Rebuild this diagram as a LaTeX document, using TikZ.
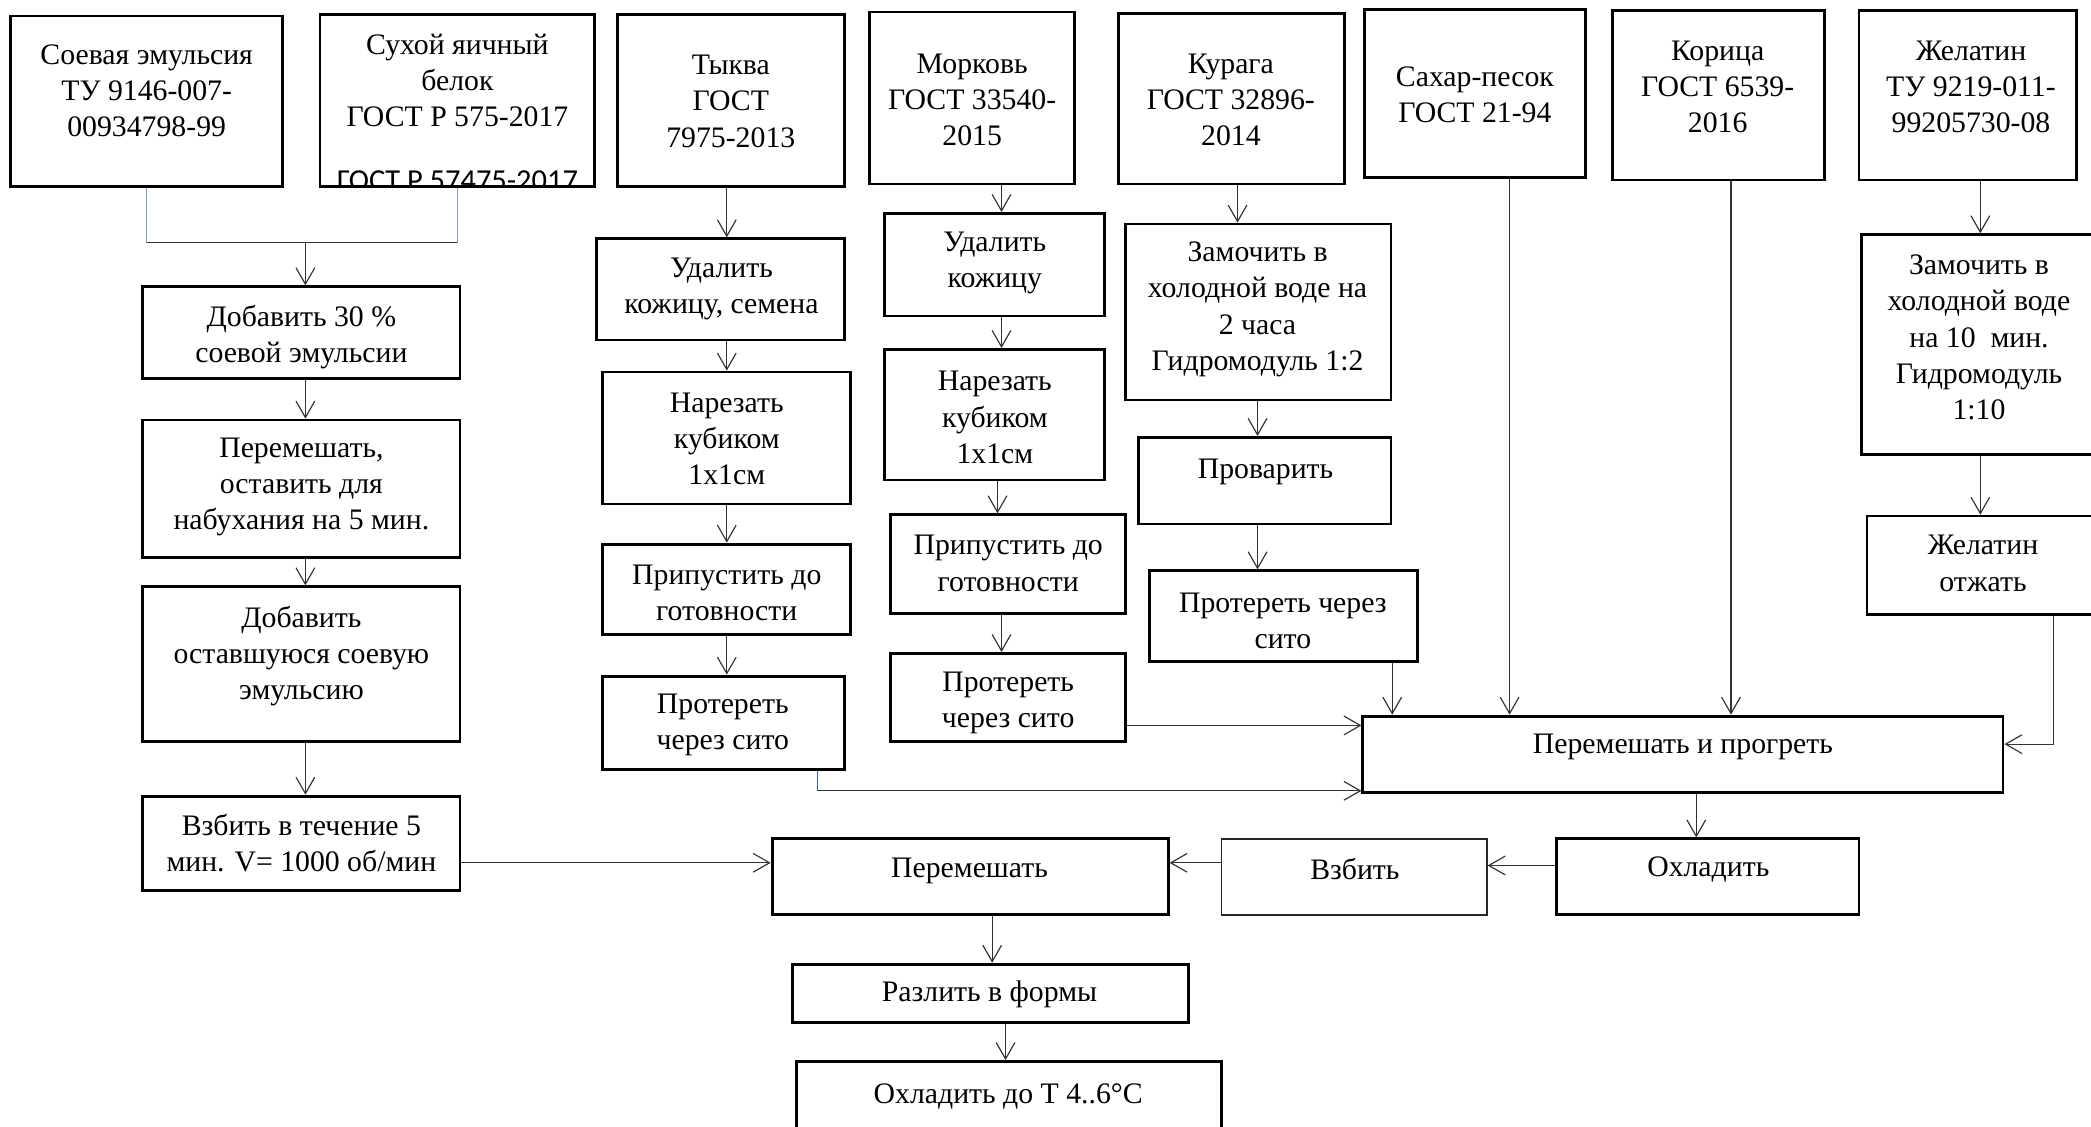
\documentclass[tikz,border=0pt]{standalone}
\usepackage{fontspec}
\setmainfont{Liberation Serif}
\newfontfamily\calfont{Carlito}
\usetikzlibrary{arrows.meta,fit}
\definecolor{linkpale}{RGB}{122,152,210}
\definecolor{linkdeep}{RGB}{60,96,196}
\tikzset{
  box/.style={draw=black, line width=1.2pt, inner sep=0pt},
  thinbox/.style={draw=black!85, line width=0.6pt, inner sep=0pt},
  txt/.style={align=center, inner sep=0pt, font=\fontsize{12.7}{15.4}\selectfont},
  conn/.style={line width=0.5pt, draw=black!80},
  arr/.style={conn, -{Straight Barb[length=7pt,width=8pt]}},
  lightlink/.style={line width=0.6pt, draw=linkpale},
  darklink/.style={line width=0.6pt, draw=linkdeep},
}
% \pbox{name}{x1}{y1}{x2}{y2}{style}
\newcommand\pbox[6]{\node[#6, fit={(#2,#3) (#4,#5)}] (#1) {};}
\begin{document}
\begin{tikzpicture}[x=0.02cm, y=-0.02cm]
\useasboundingbox (0,0) rectangle (1568,845);

% extra line of the egg-white standard, cut off by the frame
\begin{scope}
  \clip (240,11) rectangle (446,139);
  \node[anchor=base, inner sep=0pt, font=\calfont\fontsize{13}{15}\selectfont] (b2x) at (343,142.5) {ГОСТ Р 57475-2017};
\end{scope}

% raw materials
\pbox{b1}{8}{12}{212}{140}{box}
\pbox{b2}{240}{11}{446}{140}{box}
\pbox{b3}{463}{11}{633}{140}{box}
\pbox{b4}{652}{9}{806}{138}{box}
\pbox{b5}{839}{10}{1008}{138}{box}
\pbox{b6}{1023}{7}{1189}{133}{box}
\pbox{b7}{1209}{8}{1368}{135}{box}
\pbox{b8}{1394}{8}{1557}{135}{box}
\node[txt] (b1t) at (110,68) {Соевая эмульсия\\ТУ 9146-007-\\00934798-99};
\node[txt] (b2t) at (343,60.5) {Сухой яичный\\белок\\ГОСТ Р 575-2017};
\node[txt] (b3t) at (548,76) {Тыква\\ГОСТ\\7975-2013};
\node[txt] (b4t) at (729,75) {Морковь\\ГОСТ 33540-\\2015};
\node[txt] (b5t) at (923,75) {Курага\\ГОСТ 32896-\\2014};
\node[txt] (b6t) at (1106,71) {Сахар-песок\\ГОСТ 21-94};
\node[txt] (b7t) at (1288,65) {Корица\\ГОСТ 6539-\\2016};
\node[txt] (b8t) at (1478,65) {Желатин\\ТУ 9219-011-\\99205730-08};

% protein branch
\pbox{l1}{107}{215}{345}{284}{box}
\pbox{l2}{107}{315}{345}{418}{box}
\pbox{l3}{107}{440}{345}{556}{box}
\pbox{l4}{107}{597}{345}{668}{box}
\node[txt] (l1t) at (226,252.5) {Добавить 30 \%\\соевой эмульсии};
\node[txt] (l2t) at (226,365) {Перемешать,\\оставить для\\набухания на 5 мин.};
\node[txt] (l3t) at (226,492) {Добавить\\оставшуюся соевую\\эмульсию};
\node[txt] (l4t) at (226,632.5) {Взбить в течение 5\\мин. V= 1000 об/мин};

% pumpkin branch
\pbox{t1}{447}{179}{633}{255}{box}
\pbox{t2}{452}{279}{638}{378}{box}
\pbox{t3}{452}{408}{638}{476}{box}
\pbox{t4}{452}{507}{633}{577}{box}
\node[txt] (t1t) at (541,216.5) {Удалить\\кожицу, семена};
\node[txt] (t2t) at (545,329) {Нарезать\\кубиком\\1x1см};
\node[txt] (t3t) at (545,444.5) {Припустить до\\готовности};
\node[txt] (t4t) at (542,543.5) {Протереть\\через сито};

% carrot branch
\pbox{m1}{663}{160}{828}{237}{box}
\pbox{m2}{663}{262}{828}{360}{box}
\pbox{m3}{668}{386}{844}{460}{box}
\pbox{m4}{668}{490}{844}{556}{box}
\node[txt] (m1t) at (746,197.5) {Удалить\\кожицу};
\node[txt] (m2t) at (746,313) {Нарезать\\кубиком\\1x1см};
\node[txt] (m3t) at (756,422.5) {Припустить до\\готовности};
\node[txt] (m4t) at (756,527) {Протереть\\через сито};

% dried apricot branch
\pbox{k1}{844}{168}{1043}{300}{box}
\pbox{k2}{854}{328}{1043}{393}{box}
\pbox{k3}{862}{428}{1063}{496}{box}
\node[txt] (k1t) at (943,232) {Замочить в\\холодной воде на\\2 часа\\Гидромодуль 1:2};
\node[txt] (k2t) at (949,354) {Проварить};
\node[txt] (k3t) at (962,465.5) {Протереть через\\сито};

% gelatin branch
\pbox{g1}{1396}{176}{1590}{341}{box}
\pbox{g2}{1400}{387}{1590}{461}{box}
\node[txt] (g1t) at (1484,253) {Замочить в\\холодной воде\\на 10~ мин.\\Гидромодуль\\1:10};
\node[txt] (g2t) at (1487,422.5) {Желатин\\отжать};

% final steps
\pbox{pp}{1022}{537}{1502}{594}{box}
\pbox{oh}{1167}{629}{1394}{686}{box}
\pbox{vz}{916}{629}{1115}{686}{thinbox}
\pbox{pm}{579}{629}{876}{686}{box}
\pbox{rz}{594}{723}{891}{767}{box}
\pbox{cd}{597}{796}{916}{880}{box}
\node[txt] (ppt) at (1262,560) {Перемешать и прогреть};
\node[txt] (oht) at (1281,652) {Охладить};
\node[txt] (vzt) at (1016,652) {Взбить};
\node[txt] (pmt) at (727,653) {Перемешать};
\node[txt] (rzt) at (742,746) {Разлить в формы};
\node[txt] (cdt) at (756,822) {Охладить до Т 4..6°C};

% joining the two protein sources
\coordinate (jn) at (229,182);
\draw[lightlink] (b1.south) -- (b1.south |- jn);
\draw[lightlink] (b2.south) -- (b2.south |- jn);
\draw[conn] (b1.south |- jn) -- (b2.south |- jn);
\draw[arr] (jn) -- (jn |- l1.north);
\draw[arr] (l1.south -| jn) -- (l2.north -| jn);
\draw[arr] (l2.south -| jn) -- (l3.north -| jn);
\draw[arr] (l3.south -| jn) -- (l4.north -| jn);
\coordinate (rowa) at (0,647);
\draw[arr] (l4.east |- rowa) -- (pm.west |- rowa);

% pumpkin arrows
\coordinate (tx) at (545,0);
\draw[arr] (b3.south -| tx) -- (t1.north -| tx);
\draw[arr] (t1.south -| tx) -- (t2.north -| tx);
\draw[arr] (t2.south -| tx) -- (t3.north -| tx);
\draw[arr] (t3.south -| tx) -- (t4.north -| tx);
\coordinate (tk) at (613,593);
\draw[darklink] (t4.south -| tk) -- (tk);
\draw[arr] (tk) -- (pp.west |- tk);

% carrot arrows
\coordinate (mx) at (751,0);
\coordinate (mxb) at (748,0);
\draw[arr] (b4.south -| mx) -- (m1.north -| mx);
\draw[arr] (m1.south -| mx) -- (m2.north -| mx);
\draw[arr] (m2.south -| mxb) -- (m3.north -| mxb);
\draw[arr] (m3.south -| mx) -- (m4.north -| mx);
\coordinate (mrow) at (0,544);
\draw[arr] (m4.east |- mrow) -- (pp.west |- mrow);

% apricot arrows
\coordinate (kxa) at (928,0);
\coordinate (kx) at (943,0);
\draw[arr] (b5.south -| kxa) -- (k1.north -| kxa);
\draw[arr] (k1.south -| kx) -- (k2.north -| kx);
\draw[arr] (k2.south -| kx) -- (k3.north -| kx);
\coordinate (kxc) at (1044,0);
\draw[arr] (k3.south -| kxc) -- (pp.north -| kxc);

% sugar and cinnamon
\coordinate (sx) at (1132,0);
\coordinate (cx) at (1298,0);
\draw[arr] (b6.south -| sx) -- (pp.north -| sx);
\draw[arr] (b7.south -| cx) -- (pp.north -| cx);

% gelatin arrows
\coordinate (gx) at (1485,0);
\draw[arr] (b8.south -| gx) -- (g1.north -| gx);
\draw[arr] (g1.south -| gx) -- (g2.north -| gx);
\coordinate (gk) at (1540,558);
\draw[arr] (g2.south -| gk) -- (gk) -- (pp.east |- gk);

% mixing, whipping, moulding
\coordinate (px) at (1272,0);
\draw[arr] (pp.south -| px) -- (oh.north -| px);
\coordinate (rowb) at (0,649);
\draw[arr] (oh.west |- rowb) -- (vz.east |- rowb);
\draw[arr] (vz.west |- rowa) -- (pm.east |- rowa);
\coordinate (fx) at (744,0);
\coordinate (fxb) at (754,0);
\draw[arr] (pm.south -| fx) -- (rz.north -| fx);
\draw[arr] (rz.south -| fxb) -- (cd.north -| fxb);
\end{tikzpicture}
\end{document}
